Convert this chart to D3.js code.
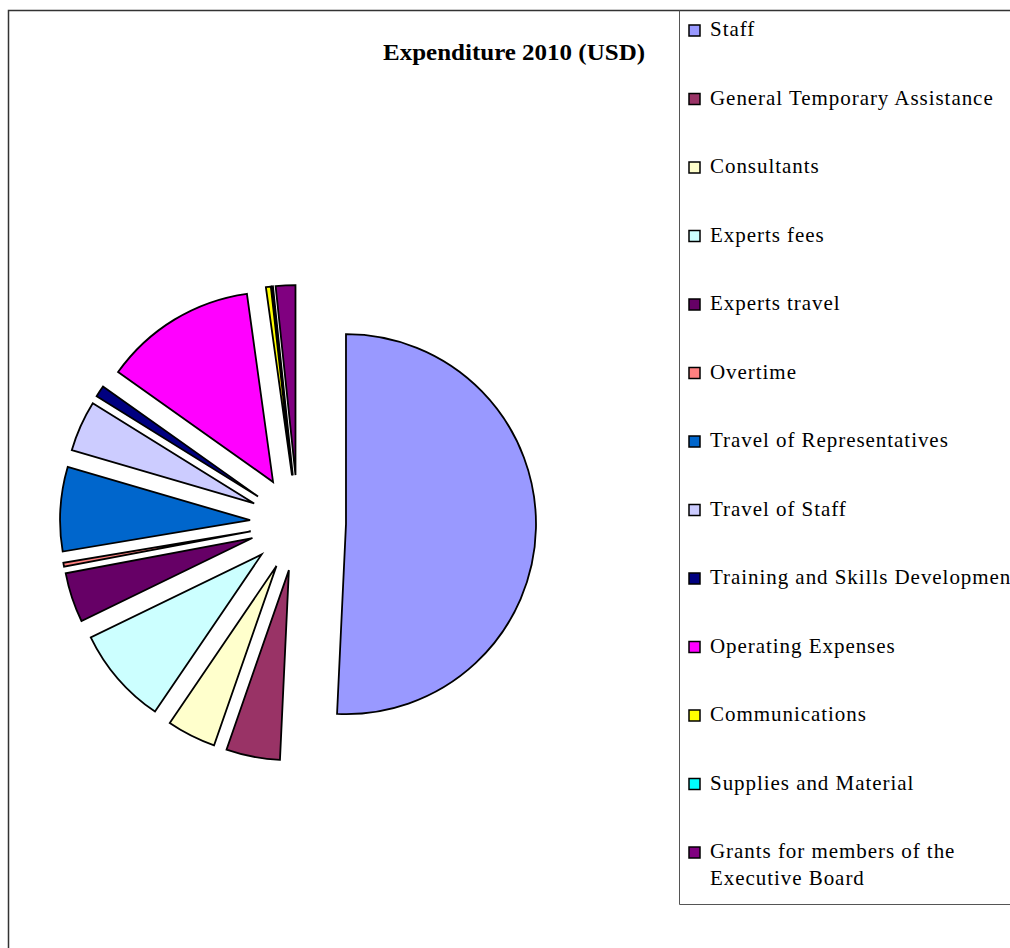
<!DOCTYPE html>
<html>
<head>
<meta charset="utf-8">
<script src="https://cdn.jsdelivr.net/npm/d3@7"></script>
<style>
  body { margin: 0; background: #fff; }
  svg { display: block; }
</style>
</head>
<body>
<div id="chart"></div>
<script>
const categories = [
  'Staff',
  'General Temporary Assistance',
  'Consultants',
  'Experts fees',
  'Experts travel',
  'Overtime',
  'Travel of Representatives',
  'Travel of Staff',
  'Training and Skills Development',
  'Operating Expenses',
  'Communications',
  'Supplies and Material',
  'Grants for members of the Executive Board',
];
const expenditure = [
  5080000, 458000, 417000, 833000, 422000, 33000, 717000,
  433000, 97000, 1300000, 42000, 11000, 167000,
];
const colors = [
  '#9999FF', '#993366', '#FFFFCC', '#CCFFFF', '#660066', '#FF8080', '#0066CC',
  '#CCCCFF', '#000080', '#FF00FF', '#FFFF00', '#00FFFF', '#800080',
];
// legend rows, long names wrap to two lines
const legendLines = [
  ['Staff'],
  ['General Temporary Assistance'],
  ['Consultants'],
  ['Experts fees'],
  ['Experts travel'],
  ['Overtime'],
  ['Travel of Representatives'],
  ['Travel of Staff'],
  ['Training and Skills Development'],
  ['Operating Expenses'],
  ['Communications'],
  ['Supplies and Material'],
  ['Grants for members of the', 'Executive Board'],
];

const width = 1010;
const height = 948;
const cx = 298;
const cy = 523;
const radius = 190;
const explode = 48;

const svg = d3
  .select('#chart')
  .append('svg')
  .attr('width', width)
  .attr('height', height);

// chart area border
svg
  .append('path')
  .attr('d', `M8.5,${height} V10.5 H${width}`)
  .attr('fill', 'none')
  .attr('stroke', '#333')
  .attr('stroke-width', 1.5);

// title
svg
  .append('text')
  .attr('x', 514)
  .attr('y', 60)
  .attr('text-anchor', 'middle')
  .attr('font-family', 'Liberation Serif, Times New Roman, serif')
  .attr('font-weight', 'bold')
  .attr('font-size', '24px')
  .attr('textLength', 262)
  .attr('lengthAdjust', 'spacingAndGlyphs')
  .text('Expenditure 2010 (USD)');

const data = categories.map((c, i) => ({ name: c, value: expenditure[i], color: colors[i] }));

const pie = d3.pie().sort(null).value((d) => d.value);
const arc = d3.arc().innerRadius(0).outerRadius(radius);

const g = svg.append('g').attr('transform', `translate(${cx},${cy})`);

g.selectAll('path')
  .data(pie(data))
  .join('path')
  .attr('d', arc)
  .attr('transform', (d) => {
    const mid = (d.startAngle + d.endAngle) / 2;
    const dx = Math.sin(mid) * explode;
    const dy = -Math.cos(mid) * explode;
    return `translate(${dx},${dy})`;
  })
  .attr('fill', (d) => d.data.color)
  .attr('stroke', '#000')
  .attr('stroke-width', 1.8)
  .attr('stroke-linejoin', 'miter');

// legend box
svg
  .append('path')
  .attr('d', `M679.5,10.5 V904.5 H${width}`)
  .attr('fill', 'none')
  .attr('stroke', '#555')
  .attr('stroke-width', 1);

const rowY = d3.scaleLinear().domain([0, 12]).range([36, 858]);

const legend = svg
  .append('g')
  .attr('font-family', 'Liberation Serif, Times New Roman, serif')
  .attr('font-size', '21px')
  .attr('letter-spacing', '0.95px');

const rows = legend
  .selectAll('g')
  .data(data)
  .join('g')
  .attr('transform', (d, i) => `translate(0,${rowY(i)})`);

rows
  .append('rect')
  .attr('x', 689)
  .attr('y', -11)
  .attr('width', 11)
  .attr('height', 11)
  .attr('fill', (d) => d.color)
  .attr('stroke', '#000')
  .attr('stroke-width', 1.5);

rows
  .append('text')
  .attr('x', 710)
  .attr('y', 0)
  .selectAll('tspan')
  .data((d, i) => legendLines[i])
  .join('tspan')
  .attr('x', 710)
  .attr('dy', (d, i) => (i === 0 ? 0 : 27))
  .text((d) => d);
</script>
</body>
</html>
